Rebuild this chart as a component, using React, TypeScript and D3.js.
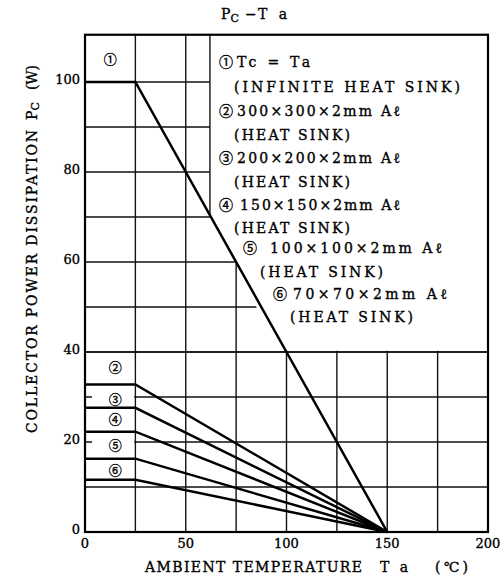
import React from "react";
import * as d3 from "d3";

const xTicks = [0, 50, 100, 150, 200];
const yTicks = [0, 20, 40, 60, 80, 100];
const xGrid = [25, 50, 75, 100, 125, 150, 175];
const yGrid = [10, 20, 30, 40, 50, 60, 70, 80, 90, 100];

const curveLabels = ["①", "②", "③", "④", "⑤", "⑥"];
const flatPower = [100, 32.8, 27.6, 22.3, 16.3, 11.6];
const kneeTemp = 25;
const zeroTemp = 150;
const labelTa = [12.5, 15, 15, 15, 15, 15];
const labelPc = [105, 36.5, 29.4, 24.9, 19.2, 13.7];

const legendLines = [
  { mark: "①", text: "Tc = Ta" },
  { mark: "", text: "(INFINITE HEAT SINK)" },
  { mark: "②", text: "300×300×2mm Aℓ" },
  { mark: "", text: "(HEAT SINK)" },
  { mark: "③", text: "200×200×2mm Aℓ" },
  { mark: "", text: "(HEAT SINK)" },
  { mark: "④", text: "150×150×2mm Aℓ" },
  { mark: "", text: "(HEAT SINK)" },
  { mark: "⑤", text: "100×100×2mm Aℓ" },
  { mark: "", text: "(HEAT SINK)" },
  { mark: "⑥", text: "70×70×2mm Aℓ" },
  { mark: "", text: "(HEAT SINK)" },
];
// layout for legend lines: [markCenterX, textStartX, textWidth, baselineY]
const legendLayout = [
  [226, 237, 73, 67.3],
  [0, 234, 226, 91.7],
  [226, 237, 163, 116],
  [0, 234, 116, 140],
  [226, 237, 163, 163.3],
  [0, 234, 116, 186.7],
  [226, 240, 160, 210],
  [0, 234, 116, 233],
  [250, 270, 172, 253],
  [0, 260, 123, 276.7],
  [280, 293, 154, 298.5],
  [0, 290, 123, 321.7],
];

// white legend area polygon in data units (Ta, Pc)
const legendArea: [number, number][] = [
  [62, 110.5], [62, 70], [75, 60], [85, 50], [100, 40.3], [200, 40.3], [200, 110.5],
];

const serif = "'DejaVu Serif', 'Liberation Serif', serif";
const cjk = "'Noto Sans CJK JP', 'DejaVu Sans', sans-serif";

export default function App() {
  const x = d3.scaleLinear().domain([0, 200]).range([85, 488]);
  const y = d3.scaleLinear().domain([0, 110.5]).range([532, 34.75]);
  const line = d3.line<[number, number]>().x((d) => x(d[0])).y((d) => y(d[1]));

  const x0 = x(0), x1 = x(200), y0 = y(0), y1 = y(110.5);
  const thick = { stroke: "#000", strokeWidth: 0.35 };

  return (
    <svg width={500} height={581} style={{ position: "absolute", left: 0, top: 0, background: "#fff" }}>
      <rect x={0} y={0} width={500} height={581} fill="#fff" />
      {/* grid */}
      <g stroke="#111" strokeWidth={1.4}>
        {xGrid.map((t) => (
          <line key={"vx" + t} x1={x(t)} x2={x(t)} y1={y0} y2={y1} />
        ))}
        {yGrid.map((t) => (
          <line key={"hy" + t} x1={x0} x2={x1} y1={y(t)} y2={y(t)} />
        ))}
      </g>
      {/* white legend area */}
      <path d={line(legendArea.concat([legendArea[0]]))!} fill="#fff" stroke="none" />
      {/* left column label area */}
      <rect x={x(3.5)} y={y(38)} width={x(24.4) - x(3.5)} height={y(12) - y(38)} fill="#fff" />
      <line x1={x(62)} x2={x(62)} y1={y(110.5)} y2={y(70)} stroke="#111" strokeWidth={1.4} />
      <line x1={x0} x2={x1} y1={y(40)} y2={y(40)} stroke="#111" strokeWidth={1.4} />
      {/* frame */}
      <rect x={x0} y={y1} width={x1 - x0} height={y0 - y1} fill="none" stroke="#000" strokeWidth={2.2} />

      {/* curves */}
      <g fill="none" stroke="#000" strokeWidth={2.5} strokeLinejoin="miter">
        {flatPower.map((p, i) => (
          <path key={"c" + i} d={line([[0, p], [kneeTemp, p], [zeroTemp, 0]])!} />
        ))}
      </g>

      {/* curve labels */}
      <g fontFamily={cjk} fontSize={13} textAnchor="middle" fill="#000" {...thick}>
        {curveLabels.map((l, i) => (
          <text key={"l" + i} x={x(labelTa[i])} y={y(labelPc[i]) + 4.5}>{l}</text>
        ))}
      </g>

      {/* y tick labels */}
      <g fontFamily={serif} fontSize={13} textAnchor="end" fill="#000" {...thick}>
        {yTicks.map((t) => (
          <text key={"yt" + t} x={x0 - 5} y={y(t) + 2}>{t}</text>
        ))}
      </g>
      {/* x tick labels */}
      <g fontFamily={serif} fontSize={13} textAnchor="middle" fill="#000" {...thick}>
        {xTicks.map((t) => (
          <text key={"xt" + t} x={x(t)} y={548.3}>{t}</text>
        ))}
      </g>

      {/* legend */}
      <g fill="#000" {...thick}>
        {legendLines.map((l, i) => {
          const [mx, tx, tw, by] = legendLayout[i];
          return (
            <g key={"lg" + i}>
              {l.mark && (
                <text x={mx} y={by} fontFamily={cjk} fontSize={14} textAnchor="middle">{l.mark}</text>
              )}
              <text x={tx} y={by} fontFamily={serif} fontSize={14} textLength={tw} lengthAdjust="spacing">{l.text}</text>
            </g>
          );
        })}
      </g>

      {/* title */}
      <g fontFamily={serif} fontSize={14} fill="#000" {...thick}>
        <text x={221} y={19.3}>
          P<tspan fontSize={11} dy={2.5}>C</tspan>
        </text>
        <text x={245} y={19.3}>−</text>
        <text x={258} y={19.3} textLength={29} lengthAdjust="spacing">Ta</text>
      </g>

      {/* x axis title */}
      <g fontFamily={serif} fontSize={14} fill="#000" {...thick}>
        <text x={145} y={571.7} textLength={217} lengthAdjust="spacing">AMBIENT TEMPERATURE</text>
        <text x={380} y={571.7} textLength={28} lengthAdjust="spacing">Ta</text>
        <text x={435} y={571.7} textLength={33} lengthAdjust="spacing">(℃)</text>
      </g>

      {/* y axis title */}
      <g fontFamily={serif} fontSize={14} fill="#000" {...thick}>
        <text transform="translate(36.5,433) rotate(-90)" x={0} y={0} textLength={303} lengthAdjust="spacing">COLLECTOR POWER DISSIPATION</text>
        <text transform="translate(36.5,120) rotate(-90)" x={0} y={0}>
          P<tspan fontSize={11} dy={2.5}>C</tspan>
        </text>
        <text transform="translate(36.5,90) rotate(-90)" x={0} y={0} textLength={25} lengthAdjust="spacing">(W)</text>
      </g>
    </svg>
  );
}
